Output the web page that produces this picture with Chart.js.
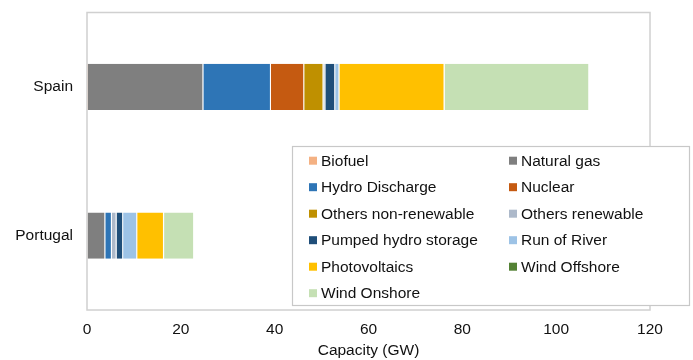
<!DOCTYPE html>
<html>
<head>
<meta charset="utf-8">
<script src="https://cdn.jsdelivr.net/npm/chart.js@4/dist/chart.umd.min.js"></script>
<style>
  html, body { margin: 0; padding: 0; background: #fff; }
  #wrap { width: 693px; height: 360px; position: relative; }
</style>
</head>
<body>
<div id="wrap"><canvas id="c" width="693" height="360"></canvas></div>
<script>
// Installed capacity by technology (GW)
const countries = ['Spain', 'Portugal'];
const technologies = [
  'Biofuel', 'Natural gas', 'Hydro Discharge', 'Nuclear',
  'Others non-renewable', 'Others renewable', 'Pumped hydro storage',
  'Run of River', 'Photovoltaics', 'Wind Offshore', 'Wind Onshore'
];
const biofuel            = [0.2, 0.1];
const naturalGas         = [24.6, 3.8];
const hydroDischarge     = [14.4, 1.4];
const nuclear            = [7.1, 0];
const othersNonRenewable = [4.1, 0];
const othersRenewable    = [0.4, 1.0];
const pumpedHydro        = [2.1, 1.4];
const runOfRiver         = [0.9, 3.0];
const photovoltaics      = [22.4, 5.7];
const windOffshore       = [0.05, 0.03];
const windOnshore        = [30.8, 6.4];
const xTicks = [0, 20, 40, 60, 80, 100, 120];

const seriesValues = [
  biofuel, naturalGas, hydroDischarge, nuclear, othersNonRenewable,
  othersRenewable, pumpedHydro, runOfRiver, photovoltaics, windOffshore, windOnshore
];
const colors = [
  '#F4B183', '#7F7F7F', '#2E75B6', '#C55A11', '#BF9000',
  '#ADB9CA', '#1F4E79', '#9DC3E6', '#FFC000', '#548235', '#C5E0B4'
];

const FONT = "'Liberation Sans', Arial, sans-serif";

// Frame around the plot area plus the boxed legend inside it
const framePlugin = {
  id: 'frame',
  afterDatasetsDraw(chart) {
    const { ctx, chartArea: a } = chart;
    ctx.save();
    ctx.strokeStyle = '#D0D0D0';
    ctx.lineWidth = 1.5;
    ctx.strokeRect(a.left, a.top, a.right - a.left, a.bottom - a.top);
    ctx.restore();
  },
  afterDraw(chart) {
    const { ctx } = chart;
    const box = { x: 292.5, y: 146.5, w: 397, h: 159 };
    ctx.save();
    ctx.fillStyle = '#ffffff';
    ctx.fillRect(box.x, box.y, box.w, box.h);
    ctx.strokeStyle = '#C8C8C8';
    ctx.lineWidth = 1.2;
    ctx.strokeRect(box.x, box.y, box.w, box.h);
    ctx.font = '15.5px ' + FONT;
    ctx.textBaseline = 'middle';
    chart.data.datasets.forEach((ds, i) => {
      const col = i % 2, row = Math.floor(i / 2);
      const mx = col === 0 ? 309 : 509;
      const my = 160.7 + row * 26.5;
      ctx.fillStyle = ds.backgroundColor;
      ctx.fillRect(mx, my - 4, 8, 8);
      ctx.fillStyle = '#111111';
      ctx.fillText(ds.label, mx + 12, my + 1);
    });
    ctx.restore();
  }
};

new Chart(document.getElementById('c'), {
  type: 'bar',
  data: {
    labels: countries,
    datasets: technologies.map((name, i) => ({
      label: name,
      data: seriesValues[i],
      backgroundColor: colors[i],
      borderColor: 'rgba(255,255,255,0.35)',
      borderWidth: { left: 0, right: 1, top: 0, bottom: 0 },
      borderSkipped: false,
      categoryPercentage: 1.0,
      barPercentage: 0.31
    }))
  },
  options: {
    indexAxis: 'y',
    responsive: false,
    animation: false,
    layout: { padding: { top: 12.5, right: 43, left: 0, bottom: 0 } },
    plugins: {
      legend: { display: false },
      tooltip: { enabled: false }
    },
    scales: {
      x: {
        stacked: true,
        min: 0, max: 120,
        afterBuildTicks(axis) { axis.ticks = xTicks.map(v => ({ value: v })); },
        grid: { display: false, drawTicks: false },
        border: { display: false },
        ticks: { color: '#111111', font: { family: FONT, size: 15.5 }, padding: 10 },
        title: {
          display: true, text: 'Capacity (GW)', color: '#111111',
          font: { family: FONT, size: 15.5 }, padding: { top: 2, bottom: 0 }
        },
        afterFit(axis) { axis.height = 50; axis.paddingLeft = 0; axis.paddingRight = 0; }
      },
      y: {
        stacked: true,
        grid: { display: false, drawTicks: false },
        border: { display: false },
        ticks: { color: '#111111', font: { family: FONT, size: 15.5 }, padding: 14 },
        afterFit(axis) { axis.width = 87; axis.paddingTop = 0; axis.paddingBottom = 0; }
      }
    }
  },
  plugins: [framePlugin]
});
</script>
</body>
</html>
